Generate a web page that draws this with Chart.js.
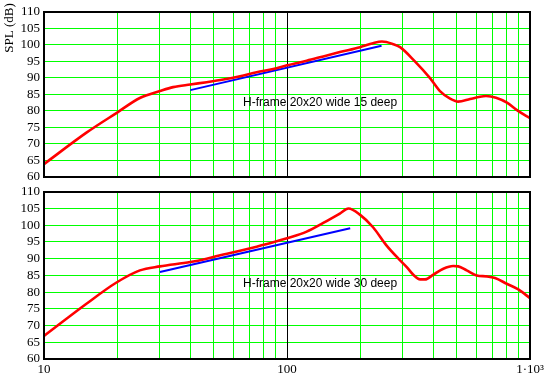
<!DOCTYPE html>
<html>
<head>
<meta charset="utf-8">
<script src="https://cdn.jsdelivr.net/npm/chart.js@4/dist/chart.umd.min.js"></script>
<style>
  html, body { margin: 0; padding: 0; background: #fff; }
  #wrap { position: relative; width: 550px; height: 383px; overflow: hidden; }
  canvas { position: absolute; left: 0; }
</style>
</head>
<body>
<div id="wrap">
  <canvas id="c1" width="550" height="190" style="top:0px"></canvas>
  <canvas id="c2" width="550" height="203" style="top:180px"></canvas>
</div>
<script>
// ---- Data ----
const xTicks = [10, 20, 30, 40, 50, 60, 70, 80, 90, 100, 200, 300, 400, 500, 600, 700, 800, 900, 1000];
const xLabels = { 10: '10', 100: '100', 1000: '1·10³' };
const yTicks = [60, 65, 70, 75, 80, 85, 90, 95, 100, 105, 110];
const yTitle = 'SPL (dB)';

const topRedFreq = [10, 15, 20, 24.8, 30, 34, 40, 46.7, 54.7, 64.1, 75, 87.8, 100, 120.5, 141, 165, 200, 226, 246, 274, 292, 336, 387, 426, 469, 506, 567, 623, 659, 725, 804, 893, 1000];
const topRedSPL  = [63.9, 73.5, 79.5, 83.9, 86.0, 87.2, 88.0, 88.7, 89.5, 90.5, 91.7, 92.7, 93.8, 95.2, 96.5, 97.8, 99.3, 100.5, 101.0, 100.2, 99.3, 95.0, 90.0, 86.0, 83.7, 82.8, 83.6, 84.3, 84.5, 84.0, 82.5, 80.0, 77.8];
const topBlueFreq = [40, 245];
const topBlueSPL  = [86.3, 99.7];
const topLabel = 'H-frame 20x20 wide 15 deep';

const botRedFreq = [10, 15, 19.8, 24.8, 30, 40, 46.7, 54.7, 64.1, 75, 87.8, 100, 120.5, 141, 165, 179, 200, 226, 257, 292, 311, 331, 353, 370, 400, 440, 483, 507, 549, 604, 664, 718, 802, 895, 1000];
const botRedSPL  = [66.9, 76.6, 82.8, 86.5, 87.7, 89.0, 90.0, 91.25, 92.4, 93.6, 94.9, 96.1, 98.1, 100.7, 103.5, 105.0, 103.1, 99.4, 93.9, 89.5, 87.5, 85.2, 83.8, 83.8, 85.2, 87.0, 87.8, 87.7, 86.5, 85.0, 84.7, 84.2, 82.5, 80.8, 78.2];
const botBlueFreq = [30, 182];
const botBlueSPL  = [86.0, 99.1];
const botLabel = 'H-frame 20x20 wide 30 deep';

// ---- helpers ----
const pts = (xs, ys) => xs.map((x, i) => ({ x: x, y: ys[i] }));
const serif = "'Liberation Serif', 'Times New Roman', serif";
const sans = "'Liberation Sans', Arial, sans-serif";
const GREEN = '#00ff00';

function framePlugin(label, labelY, showTitle) {
  return {
    id: 'frame',
    beforeDatasetsDraw(chart) {
      const { ctx, chartArea: a, scales } = chart;
      const x = Math.round(scales.x.getPixelForValue(100)) + 0.5;
      ctx.save();
      ctx.strokeStyle = '#000';
      ctx.lineWidth = 1;
      ctx.beginPath();
      ctx.moveTo(x, a.top);
      ctx.lineTo(x, a.bottom);
      ctx.stroke();
      ctx.restore();
    },
    afterDatasetsDraw(chart) {
      const { ctx } = chart;
      ctx.save();
      ctx.fillStyle = '#000';
      ctx.font = '12px ' + sans;
      ctx.textAlign = 'left';
      ctx.textBaseline = 'middle';
      ctx.fillText(label, 243, labelY);
      ctx.restore();
    },
    afterDraw(chart) {
      const { ctx, chartArea: a } = chart;
      ctx.save();
      ctx.strokeStyle = '#000';
      ctx.lineWidth = 2;
      ctx.strokeRect(a.left, Math.round(a.top), a.right - a.left, a.bottom - Math.round(a.top));
      if (showTitle) {
        ctx.translate(10, 28);
        ctx.rotate(-Math.PI / 2);
        ctx.fillStyle = '#000';
        ctx.font = '13px ' + serif;
        ctx.textAlign = 'center';
        ctx.textBaseline = 'middle';
        ctx.fillText(yTitle, 0, 0);
      }
      ctx.restore();
    }
  };
}

function makeChart(id, red, blue, opts) {
  return new Chart(document.getElementById(id), {
    type: 'line',
    data: {
      datasets: [
        { data: blue, borderColor: '#0000ff', borderWidth: 2, pointRadius: 0, fill: false, order: 1 },
        { data: red, borderColor: '#ff0000', borderWidth: 2.6, pointRadius: 0, fill: false, cubicInterpolationMode: 'monotone', order: 0 }
      ]
    },
    options: {
      responsive: false,
      devicePixelRatio: 1,
      animation: false,
      events: [],
      layout: { padding: { top: opts.padTop, right: 20, left: 0, bottom: 0 } },
      plugins: { legend: { display: false }, tooltip: { enabled: false } },
      scales: {
        x: {
          type: 'logarithmic',
          min: 10, max: 1000,
          afterBuildTicks(scale) { scale.ticks = xTicks.map(v => ({ value: v })); },
          afterFit(scale) { scale.height = opts.xHeight; },
          grid: { color: GREEN, lineWidth: 1, drawTicks: false },
          border: { display: false },
          ticks: {
            display: opts.showX,
            autoSkip: false,
            maxRotation: 0,
            padding: 3,
            color: '#000',
            font: { family: serif, size: 13 },
            callback: v => xLabels[v] || ''
          }
        },
        y: {
          min: 60, max: 110,
          afterBuildTicks(scale) { scale.ticks = yTicks.map(v => ({ value: v })); },
          afterFit(scale) { scale.width = 44; },
          grid: { color: GREEN, lineWidth: 1, drawTicks: false },
          border: { display: false },
          ticks: {
            autoSkip: false,
            padding: 4,
            color: '#000',
            font: { family: serif, size: 13 },
            callback: v => String(v)
          }
        }
      }
    },
    plugins: [framePlugin(opts.label, opts.labelY, opts.title)]
  });
}

makeChart('c1', pts(topRedFreq, topRedSPL), pts(topBlueFreq, topBlueSPL),
  { padTop: 10, xHeight: 13, showX: false, label: topLabel, labelY: 103, title: true });
makeChart('c2', pts(botRedFreq, botRedSPL), pts(botBlueFreq, botBlueSPL),
  { padTop: 11, xHeight: 24, showX: true, label: botLabel, labelY: 284 - 180, title: false });
</script>
</body>
</html>
